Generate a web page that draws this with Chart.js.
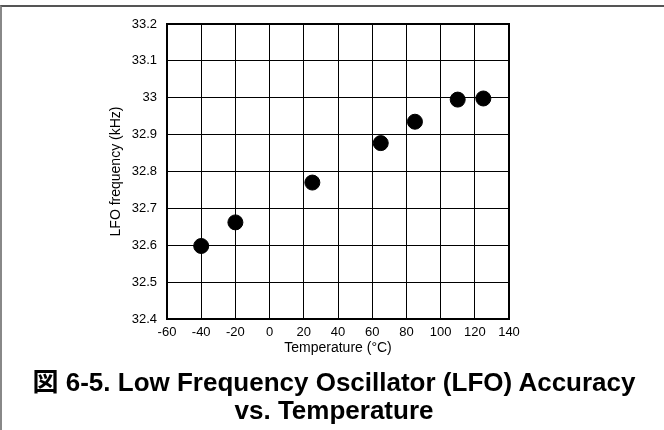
<!DOCTYPE html>
<html>
<head>
<meta charset="utf-8">
<script src="https://cdn.jsdelivr.net/npm/chart.js@4.4.1/dist/chart.umd.min.js"></script>
<style>
  html, body { margin: 0; padding: 0; background: #fff; }
  #wrap { position: relative; width: 664px; height: 430px; overflow: hidden; }
  #frame {
    position: absolute; left: 0; top: 5px; width: 664px; height: 430px;
    border-top: 2px solid #555; border-left: 2px solid #888;
  }
  #chart { position: absolute; left: 0; top: 0; }
  #caption {
    position: absolute; left: 2px; width: 664px; top: 368px;
    text-align: center; font-family: "Liberation Sans", "Noto Sans CJK JP", Arial, sans-serif;
    font-weight: bold; font-size: 26px; line-height: 28px; color: #000;
    white-space: nowrap;
  }
</style>
</head>
<body>
<div id="wrap">
  <div id="frame"></div>
  <canvas id="chart" width="664" height="430"></canvas>
  <div id="caption">図 6-5. Low Frequency Oscillator (LFO) Accuracy<br>vs. Temperature</div>
</div>
<script>
// Dados
const temperatures = [-40, -20, 25, 65, 85, 110, 125];
const lfoFrequencies = [32.598, 32.662, 32.77, 32.877, 32.935, 32.995, 32.998];
const xTickValues = [-60, -40, -20, 0, 20, 40, 60, 80, 100, 120, 140];
const yTickValues = [32.4, 32.5, 32.6, 32.7, 32.8, 32.9, 33, 33.1, 33.2];
const yTickLabels = ["32.4", "32.5", "32.6", "32.7", "32.8", "32.9", "33", "33.1", "33.2"];

const FONT = '"Liberation Sans", Arial, sans-serif';

// Moldura grossa em volta da área do gráfico
const plotBorder = {
  id: "plotBorder",
  afterDatasetsDraw(chart) {
    const { ctx, chartArea } = chart;
    ctx.save();
    ctx.strokeStyle = "#000";
    ctx.lineWidth = 2;
    ctx.strokeRect(chartArea.left, chartArea.top, chartArea.right - chartArea.left, chartArea.bottom - chartArea.top);
    ctx.restore();
  },
};

function initChart() {
  const ctx = document.getElementById("chart").getContext("2d");

  new Chart(ctx, {
    type: "scatter",
    data: {
      datasets: [
        {
          data: temperatures.map((t, i) => ({ x: t, y: lfoFrequencies[i] })),
          backgroundColor: "#000",
          borderColor: "#000",
          pointRadius: 7.5,
          pointHoverRadius: 7.5,
          clip: false,
        },
      ],
    },
    options: {
      responsive: false,
      animation: false,
      layout: { padding: { top: 24, right: 155, left: 108, bottom: 69 } },
      plugins: {
        legend: { display: false },
        tooltip: { enabled: false },
      },
      scales: {
        x: {
          type: "linear",
          min: -60,
          max: 140,
          afterBuildTicks: (scale) => {
            scale.ticks = xTickValues.map((v) => ({ value: v }));
          },
          afterFit: (scale) => {
            scale.height = 42;
          },
          grid: { color: "#000", lineWidth: 1, drawTicks: false },
          border: { display: false },
          ticks: {
            padding: 6,
            color: "#000",
            font: { family: FONT, size: 13 },
            maxRotation: 0,
          },
          title: {
            display: true,
            text: "Temperature (°C)",
            color: "#000",
            font: { family: FONT, size: 14 },
            padding: { top: 0, bottom: 4 },
          },
        },
        y: {
          type: "linear",
          min: 32.4,
          max: 33.2,
          afterBuildTicks: (scale) => {
            scale.ticks = yTickValues.map((v) => ({ value: v }));
          },
          afterFit: (scale) => {
            scale.width = 59;
          },
          grid: { color: "#000", lineWidth: 1, drawTicks: false },
          border: { display: false },
          ticks: {
            padding: 10,
            color: "#000",
            font: { family: FONT, size: 13 },
            callback: (value, index) => yTickLabels[index],
          },
          title: {
            display: true,
            text: "LFO frequency (kHz)",
            color: "#000",
            font: { family: FONT, size: 14 },
            padding: { top: 0, bottom: 0 },
          },
        },
      },
    },
    plugins: [plotBorder],
  });
}

document.addEventListener("DOMContentLoaded", initChart);
</script>
</body>
</html>
